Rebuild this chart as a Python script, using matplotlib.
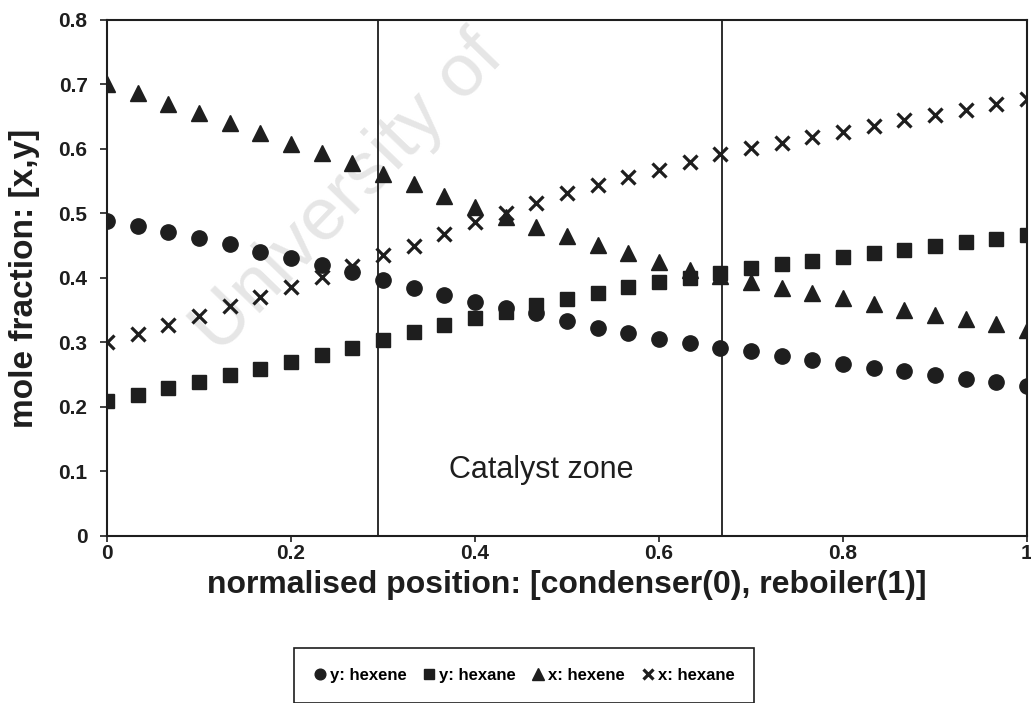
import numpy as np
import matplotlib
matplotlib.use('Agg')
import matplotlib.pyplot as plt
from matplotlib.ticker import FuncFormatter

plt.rcParams['font.family'] = ['Liberation Sans', 'DejaVu Sans']

# normalised column position, condenser (0) to reboiler (1)
position = np.arange(31) / 30

# vapour mole fraction of hexene
y_hexene = [0.489, 0.480, 0.471, 0.462, 0.452, 0.441, 0.431, 0.420, 0.409, 0.397,
            0.385, 0.373, 0.363, 0.354, 0.346, 0.333, 0.322, 0.314, 0.306, 0.299,
            0.292, 0.286, 0.279, 0.273, 0.266, 0.261, 0.255, 0.249, 0.244, 0.238, 0.233]
# vapour mole fraction of hexane
y_hexane = [0.210, 0.219, 0.229, 0.239, 0.249, 0.259, 0.270, 0.281, 0.292, 0.304,
            0.316, 0.327, 0.338, 0.348, 0.358, 0.368, 0.377, 0.386, 0.393, 0.400,
            0.407, 0.415, 0.421, 0.427, 0.433, 0.439, 0.444, 0.449, 0.455, 0.461, 0.466]
# liquid mole fraction of hexene
x_hexene = [0.700, 0.686, 0.670, 0.655, 0.640, 0.625, 0.608, 0.594, 0.578, 0.561,
            0.545, 0.527, 0.510, 0.494, 0.479, 0.465, 0.451, 0.438, 0.425, 0.413,
            0.403, 0.393, 0.385, 0.377, 0.369, 0.359, 0.351, 0.343, 0.336, 0.328, 0.320]
# liquid mole fraction of hexane
x_hexane = [0.300, 0.313, 0.327, 0.341, 0.356, 0.371, 0.386, 0.402, 0.419, 0.436,
            0.450, 0.468, 0.486, 0.501, 0.516, 0.531, 0.544, 0.556, 0.568, 0.580,
            0.592, 0.601, 0.610, 0.618, 0.627, 0.636, 0.645, 0.653, 0.661, 0.669, 0.677]

zone_edges = [0.295, 0.669]
x_ticks = [0, 0.2, 0.4, 0.6, 0.8, 1]
y_ticks = [0, 0.1, 0.2, 0.3, 0.4, 0.5, 0.6, 0.7, 0.8]

ink = '#1e1e1e'

fig = plt.figure(figsize=(10.31, 7.03), dpi=100)
ax = fig.add_axes([0.1038, 0.2376, 0.8923, 0.734])

# faint watermark behind the data
fig.text(0.338, 0.725, 'University of', rotation=46, fontsize=54, color='#e6e6e6',
         ha='center', va='center', zorder=0)
ax.set_zorder(1)
ax.patch.set_alpha(0)

ax.plot(position, y_hexene, 'o', color=ink, ms=11, ls='none', label='y: hexene')
ax.plot(position, y_hexane, 's', color=ink, ms=10, ls='none', label='y: hexane')
ax.plot(position, x_hexene, '^', color=ink, ms=11.5, ls='none', label='x: hexene')
ax.plot(position, x_hexane, 'x', color=ink, ms=10, mew=2.3, ls='none', label='x: hexane')

for edge in zone_edges:
    ax.axvline(edge, color=ink, lw=1.3)

ax.text(0.472, 0.102, 'Catalyst zone', fontsize=22, ha='center', va='center', color=ink)

ax.set_xlim(0, 1)
ax.set_ylim(0, 0.8)
ax.set_xticks(x_ticks)
ax.set_yticks(y_ticks)
ax.xaxis.set_major_formatter(FuncFormatter(lambda v, p: '%g' % v))
ax.yaxis.set_major_formatter(FuncFormatter(lambda v, p: '%g' % v))
ax.tick_params(direction='out', width=1.2, colors=ink, labelsize=15)
ax.tick_params(axis='x', length=4, pad=2)
ax.tick_params(axis='y', length=5, pad=9)
for lab in ax.get_xticklabels() + ax.get_yticklabels():
    lab.set_fontweight('bold')
for s in ax.spines.values():
    s.set_color(ink)
    s.set_linewidth(1.5)

ax.set_xlabel('normalised position: [condenser(0), reboiler(1)]', fontsize=23,
              fontweight='bold', labelpad=5, color=ink)
ax.set_ylabel('mole fraction: [x,y]', fontsize=24, fontweight='bold', labelpad=13, color=ink)

leg = fig.legend(loc='upper left', bbox_to_anchor=(294 / 1031, 1 - 648 / 703), ncol=4,
                 prop={'weight': 'bold', 'size': 12}, handlelength=0.7,
                 handletextpad=0.25, columnspacing=1.0, borderpad=1.2, borderaxespad=0,
                 markerscale=0.7, fancybox=False, framealpha=1)
leg.get_frame().set_edgecolor(ink)
leg.get_frame().set_linewidth(1.2)

fig.savefig('out.png', dpi=100)
